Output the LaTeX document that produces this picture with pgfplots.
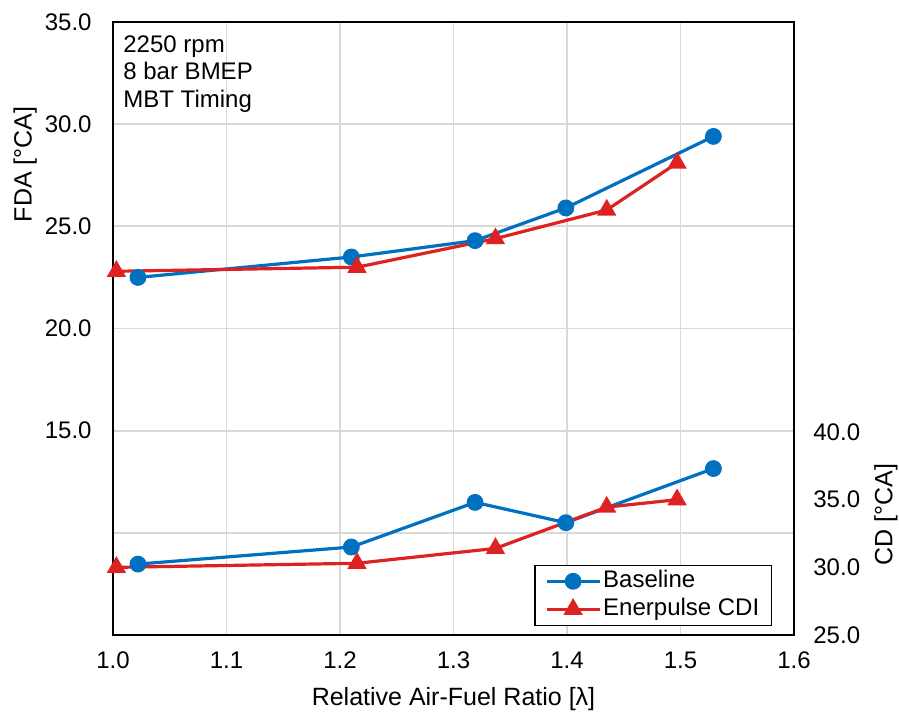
\documentclass[border=0pt]{standalone}
\usepackage{fontspec}
\setmainfont{Liberation Sans}
\usepackage{pgfplots}
\pgfplotsset{compat=1.18}
\definecolor{cblue}{RGB}{0,112,192}
\definecolor{cred}{RGB}{222,34,34}
\begin{document}
\fontsize{12pt}{14pt}\selectfont
\begin{tikzpicture}
\useasboundingbox (-56.5pt,-39pt) rectangle (393pt,317.5pt);
\pgfplotsset{
  common/.style={
    scale only axis, width=340.5pt, height=306.5pt,
    at={(0,0)}, anchor=south west,
    xmin=1.0, xmax=1.6,
    major tick length=0pt,
    tick label style={font=\fontsize{12pt}{14pt}\selectfont, inner sep=0pt},
    label style={font=\fontsize{12.5pt}{14pt}\selectfont},
    /pgf/number format/assume math mode=true,
    axis line style={black, line width=1pt},
  },
  bl/.style={cblue, line width=1.6pt, mark=*, mark size=3.4pt, mark options={solid}},
  en/.style={cred, line width=1.6pt, mark=triangle*, mark size=4pt, mark options={solid}},
}
\begin{axis}[common,
  ymin=5, ymax=35,
  ytick={5,10,...,35}, yticklabels={,,15.0,20.0,25.0,30.0,35.0},
  yticklabel style={anchor=east, xshift=-10.5pt},
  xtick={1.0,1.1,...,1.61},
  xticklabel style={anchor=base, yshift=-16.5pt, /pgf/number format/fixed, /pgf/number format/fixed zerofill, /pgf/number format/precision=1},
  grid=major, major grid style={draw=black!15, line width=0.9pt},
  xlabel={Relative Air-Fuel Ratio [λ]},
  xlabel style={at={(axis description cs:0.5,0)}, anchor=base, yshift=-35.3pt},
  ylabel={FDA [°CA]},
  ylabel style={at={(axis description cs:-0.129,0.768)}, anchor=center},
  clip=false,
]
\addplot[bl] coordinates {(1.022,22.5) (1.210,23.5) (1.319,24.3) (1.399,25.9) (1.529,29.4)};
\addplot[en] coordinates {(1.003,22.8) (1.215,23.0) (1.337,24.4) (1.435,25.8) (1.497,28.1)};
\node[anchor=north west, align=left, inner sep=0pt, font=\fontsize{12pt}{13.75pt}\selectfont]
  at ([xshift=5pt, yshift=-6.5pt]rel axis cs:0,1) {2250 rpm\\8 bar BMEP\\MBT Timing};
\end{axis}
\begin{axis}[common,
  ymin=25, ymax=70.3,
  axis y line*=right, axis x line=none,
  ytick={25,30,35,40},
  yticklabel style={anchor=west, xshift=9.5pt, /pgf/number format/fixed, /pgf/number format/fixed zerofill, /pgf/number format/precision=1},
  ylabel={CD [°CA]},
  ylabel style={at={(axis description cs:1.135,0.196)}, anchor=center},
  legend style={at={(rel axis cs:0.9677,0.0147)}, anchor=south east, draw=black, line width=0.7pt,
    font=\fontsize{12pt}{14pt}\selectfont, row sep=1pt, inner xsep=5pt, inner ysep=1.5pt,
    nodes={inner sep=1pt, text height=8.6pt, text depth=2.4pt}},
  legend cell align=left,
  legend image code/.code={\draw[#1] (0pt,0pt) -- (26.5pt,0pt); \draw[#1] plot coordinates {(13.25pt,0pt)};},
]
\addplot[bl] coordinates {(1.022,30.24) (1.210,31.5) (1.319,34.8) (1.399,33.3) (1.529,37.3)};
\addplot[en] coordinates {(1.003,30.0) (1.215,30.3) (1.337,31.4) (1.435,34.45) (1.497,35.0)};
\legend{Baseline, Enerpulse CDI}
\end{axis}
\end{tikzpicture}
\end{document}
